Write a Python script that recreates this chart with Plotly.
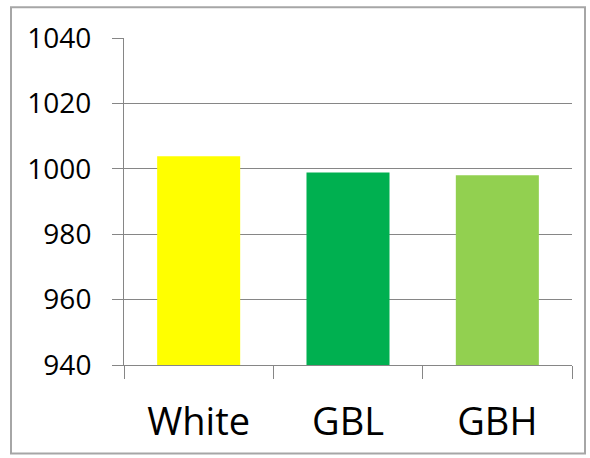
import plotly.graph_objects as go

categories = ["White", "GBL", "GBH"]
values = [1003.8, 998.9, 998.0]
colors = ["#FFFF00", "#00B050", "#92D050"]
y_ticks = [940, 960, 980, 1000, 1020, 1040]

fig = go.Figure(go.Bar(x=categories, y=values, marker=dict(color=colors, line=dict(width=0)), width=0.556))

W, H = 590, 458
L, R, T, B = 124, 18, 38, 91
pw, ph = W - L - R, H - T - B

def px(x):
    return (x - L) / pw

def py(y):
    return (H - B - y) / ph

fig.add_shape(type="rect", xref="paper", yref="paper",
              x0=px(11), x1=px(585), y0=py(456), y1=py(7),
              line=dict(color="#a6a6a6", width=2), layer="below")

axis_col = "#868686"
fig.update_layout(
    width=W, height=H,
    margin=dict(l=L, r=R, t=T, b=B, pad=0),
    paper_bgcolor="white", plot_bgcolor="white",
    font=dict(family="Open Sans", color="#000000"),
    showlegend=False,
    xaxis=dict(
        type="category", tickson="boundaries", ticks="outside", ticklen=13,
        tickcolor=axis_col, tickwidth=1, showline=True, linecolor=axis_col, linewidth=1,
        showgrid=False, tickfont=dict(size=38), ticklabelstandoff=23,
        range=[-0.5, 2.5],
    ),
    yaxis=dict(
        range=[940, 1040], tickvals=y_ticks, ticks="outside", ticklen=11,
        tickcolor=axis_col, tickwidth=1, showline=True, linecolor=axis_col, linewidth=1,
        showgrid=True, gridcolor=axis_col, gridwidth=1, zeroline=False,
        tickfont=dict(size=28), ticklabelstandoff=15,
    ),
)

fig.write_html("out.html")
